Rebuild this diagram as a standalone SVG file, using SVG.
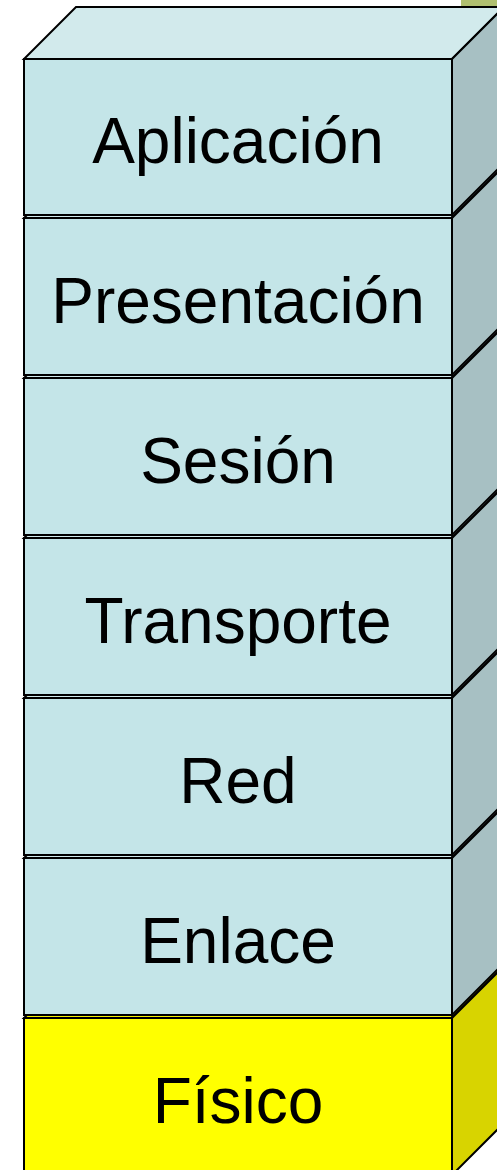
<svg xmlns="http://www.w3.org/2000/svg" width="497" height="1170" viewBox="0 0 497 1170">
<style>
.e{stroke:#000;stroke-width:2;stroke-linejoin:miter}
.top{fill:#D2EAEC}.side{fill:#A7C0C3}.front{fill:#C4E5E8}
.ytop{fill:#F5F000}.yside{fill:#D8D400}.yfront{fill:#FFFF00}
text{font-family:"Liberation Sans",Arial,sans-serif;font-size:64px;fill:#000;text-anchor:middle}
</style>
<rect x="461" y="0" width="36" height="30" fill="#B0C070"/>
<g id="fisico">
<polygon class="e ytop" points="24,1018 452,1018 504,966 76,966"/>
<polygon class="e yside" points="452,1018 504,966 504,1123 452,1175"/>
<rect class="e yfront" x="24" y="1018" width="428" height="157"/>
<text x="238" y="1123">Físico</text>
</g>
<g id="enlace">
<polygon class="e top" points="24,858 452,858 504,806 76,806"/>
<polygon class="e side" points="452,858 504,806 504,963 452,1015"/>
<rect class="e front" x="24" y="858" width="428" height="157"/>
<text x="238" y="963">Enlace</text>
</g>
<g id="red">
<polygon class="e top" points="24,698 452,698 504,646 76,646"/>
<polygon class="e side" points="452,698 504,646 504,803 452,855"/>
<rect class="e front" x="24" y="698" width="428" height="157"/>
<text x="238" y="803">Red</text>
</g>
<g id="transporte">
<polygon class="e top" points="24,538 452,538 504,486 76,486"/>
<polygon class="e side" points="452,538 504,486 504,643 452,695"/>
<rect class="e front" x="24" y="538" width="428" height="157"/>
<text x="238" y="643">Transporte</text>
</g>
<g id="sesion">
<polygon class="e top" points="24,378 452,378 504,326 76,326"/>
<polygon class="e side" points="452,378 504,326 504,483 452,535"/>
<rect class="e front" x="24" y="378" width="428" height="157"/>
<text x="238" y="483">Sesión</text>
</g>
<g id="presentacion">
<polygon class="e top" points="24,218 452,218 504,166 76,166"/>
<polygon class="e side" points="452,218 504,166 504,323 452,375"/>
<rect class="e front" x="24" y="218" width="428" height="157"/>
<text x="238" y="323">Presentación</text>
</g>
<g id="aplicacion">
<polygon class="e top" points="24,59 452,59 504,7 76,7"/>
<polygon class="e side" points="452,59 504,7 504,163 452,215"/>
<rect class="e front" x="24" y="59" width="428" height="156"/>
<text x="238" y="163">Aplicación</text>
</g>
<g id="connectors"/>
</svg>
